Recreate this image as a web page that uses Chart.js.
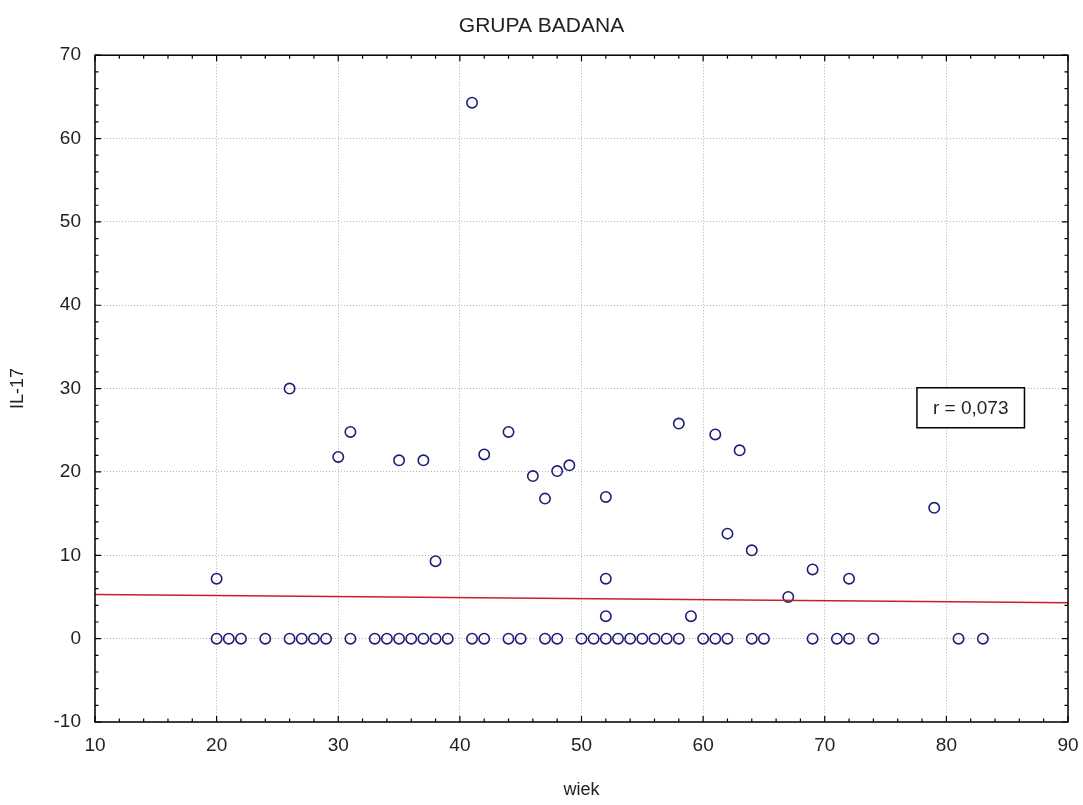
<!DOCTYPE html>
<html>
<head>
  <title>GRUPA BADANA</title>
  <script src="https://cdn.jsdelivr.net/npm/chart.js"></script>
  <style>
    body { margin: 0; background: #fff; }
    #wrap { width: 1083px; height: 805px; }
  </style>
</head>
<body>
<div id="wrap"><canvas id="chart" width="1083" height="805"></canvas></div>
<script>
  // wiek (x) / IL-17 (y)
  const wiek = [20, 26, 30, 31, 35, 37, 38, 41, 42, 44, 46, 47, 48, 49, 52, 52, 52, 58, 59, 61, 62, 63, 64, 67, 69, 72, 79,
    20, 21, 22, 24, 26, 27, 28, 29, 31, 33, 34, 35, 36, 37, 38, 39, 41, 42, 44, 45, 47, 48,
    50, 51, 52, 53, 54, 55, 56, 57, 58, 60, 61, 62, 64, 65, 69, 71, 72, 74, 81, 83];
  const il17 = [7.2, 30, 21.8, 24.8, 21.4, 21.4, 9.3, 64.3, 22.1, 24.8, 19.5, 16.8, 20.1, 20.8, 17.0, 7.2, 2.7, 25.8, 2.7, 24.5, 12.6, 22.6, 10.6, 5.0, 8.3, 7.2, 15.7,
    0, 0, 0, 0, 0, 0, 0, 0, 0, 0, 0, 0, 0, 0, 0, 0, 0, 0, 0, 0, 0, 0,
    0, 0, 0, 0, 0, 0, 0, 0, 0, 0, 0, 0, 0, 0, 0, 0, 0, 0, 0, 0];

  // regression line ends
  const regX = [10, 90];
  const regY = [5.3, 4.3];

  const xTicks = [10, 20, 30, 40, 50, 60, 70, 80, 90];
  const yTicks = [-10, 0, 10, 20, 30, 40, 50, 60, 70];

  const rLabel = 'r = 0,073';
  const rPos = [82, 27.7];

  const points = wiek.map((w, i) => ({ x: w, y: il17[i] }));
  const regLine = regX.map((x, i) => ({ x: x, y: regY[i] }));

  const FONT = "'Liberation Sans', Arial, sans-serif";

  // frame, inward ticks (major every 10, minor every 2), r label
  const framePlugin = {
    id: 'frame',
    afterDraw(chart) {
      const ctx = chart.ctx;
      const a = chart.chartArea;
      const xs = chart.scales.x, ys = chart.scales.y;
      ctx.save();
      ctx.strokeStyle = '#000';
      ctx.lineWidth = 1.5;
      ctx.strokeRect(a.left, a.top, a.right - a.left, a.bottom - a.top);

      ctx.lineWidth = 1.2;
      ctx.beginPath();
      for (let v = xs.min; v <= xs.max; v += 2) {
        const px = xs.getPixelForValue(v);
        const len = (v % 10 === 0) ? 6 : 3.5;
        ctx.moveTo(px, a.bottom); ctx.lineTo(px, a.bottom - len);
        ctx.moveTo(px, a.top); ctx.lineTo(px, a.top + len);
      }
      for (let v = ys.min; v <= ys.max; v += 2) {
        const py = ys.getPixelForValue(v);
        const len = (v % 10 === 0) ? 6 : 3.5;
        ctx.moveTo(a.left, py); ctx.lineTo(a.left + len, py);
        ctx.moveTo(a.right, py); ctx.lineTo(a.right - len, py);
      }
      ctx.stroke();

      // r box
      const cx = xs.getPixelForValue(rPos[0]);
      const cy = ys.getPixelForValue(rPos[1]);
      ctx.font = '19px ' + FONT;
      const w = ctx.measureText(rLabel).width + 32;
      const h = 40;
      ctx.fillStyle = '#fff';
      ctx.fillRect(cx - w / 2, cy - h / 2, w, h);
      ctx.strokeStyle = '#000';
      ctx.lineWidth = 1.5;
      ctx.strokeRect(cx - w / 2, cy - h / 2, w, h);
      ctx.fillStyle = '#222';
      ctx.textAlign = 'center';
      ctx.textBaseline = 'middle';
      ctx.fillText(rLabel, cx, cy + 1);
      ctx.restore();
    }
  };

  new Chart(document.getElementById('chart'), {
    type: 'scatter',
    data: {
      datasets: [
        {
          label: 'regresja',
          data: regLine,
          showLine: true,
          borderColor: '#c8202a',
          borderWidth: 1.5,
          pointRadius: 0,
          fill: false
        },
        {
          label: 'IL-17',
          data: points,
          pointStyle: 'circle',
          pointRadius: 5.2,
          pointBorderWidth: 1.6,
          borderColor: '#1e1e78',
          backgroundColor: 'rgba(255,255,255,0)'
        }
      ]
    },
    plugins: [framePlugin],
    options: {
      responsive: false,
      animation: false,
      layout: { padding: { left: 0, right: 0, top: 0, bottom: 0 } },
      plugins: {
        legend: { display: false },
        tooltip: { enabled: false },
        title: {
          display: true,
          text: 'GRUPA BADANA',
          color: '#222',
          font: { family: FONT, size: 21, weight: 'normal' },
          padding: { top: 14, bottom: 16 }
        }
      },
      scales: {
        x: {
          type: 'linear',
          min: 10, max: 90,
          afterBuildTicks: s => { s.ticks = xTicks.map(v => ({ value: v })); },
          afterFit: s => { s.height = 83; s.paddingRight = 15; s.paddingLeft = 0; },
          ticks: { color: '#222', font: { family: FONT, size: 19 }, padding: 12 },
          grid: { color: '#b4b4b4', lineWidth: 1, drawTicks: false },
          border: { display: false, dash: [1, 2] },
          title: {
            display: true, text: 'wiek', color: '#222',
            font: { family: FONT, size: 18 }, padding: { top: 0, bottom: 4 }
          }
        },
        y: {
          type: 'linear',
          min: -10, max: 70,
          afterBuildTicks: s => { s.ticks = yTicks.map(v => ({ value: v })); },
          afterFit: s => { s.width = 95; },
          ticks: { color: '#222', font: { family: FONT, size: 19 }, padding: 14 },
          grid: { color: '#b4b4b4', lineWidth: 1, drawTicks: false },
          border: { display: false, dash: [1, 2] },
          title: {
            display: true, text: 'IL-17', color: '#222',
            font: { family: FONT, size: 18 }, padding: { top: 7, bottom: 0 }
          }
        }
      }
    }
  });
</script>
</body>
</html>
